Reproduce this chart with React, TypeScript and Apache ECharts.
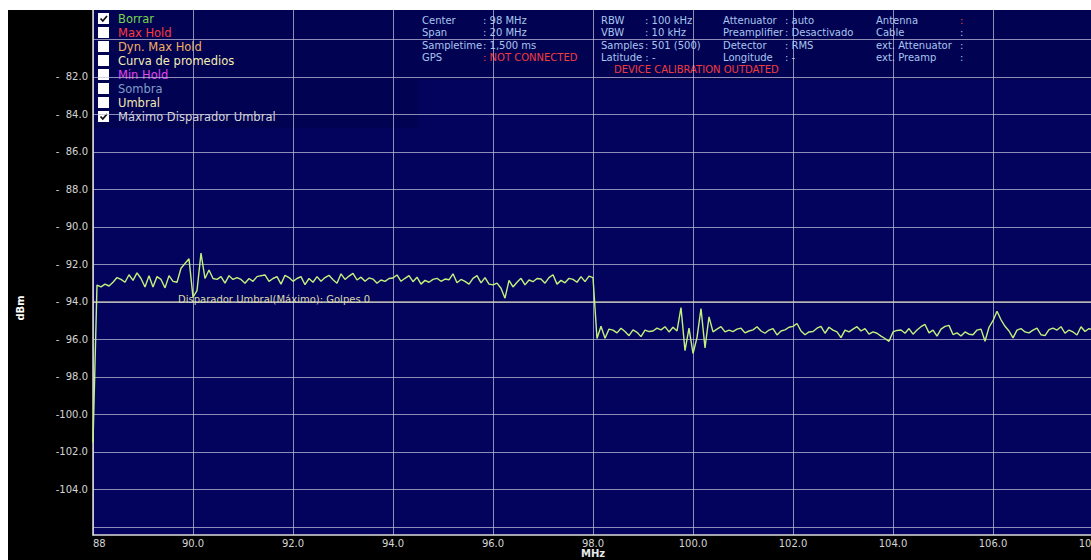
import React, { useEffect, useRef } from "react";
import * as echarts from "echarts";

// Sweep definition: 88–108 MHz, one sample every 0.08 MHz
const startMHz = 88;
const stepMHz = 0.08;

// Clear/Write trace, dBm
const traceDbm: number[] = [
  -101.5, -93.1, -93.2, -93.05, -93.15, -92.95, -92.7, -92.8, -92.95, -92.55, -92.85, -92.45, -92.75, -93.2, -92.6, -93.2, -92.65, -92.8, -93.25, -92.6, -92.9, -92.95, -92.2, -91.95, -91.7,
  -93.75, -93.4, -91.4, -92.75, -92.3, -92.75, -92.8, -92.65, -93.0, -92.6, -92.8, -92.7, -92.8, -93.0, -92.75, -92.9, -92.65, -92.6, -92.56, -92.9, -92.75, -92.65, -93.05, -92.58, -92.7,
  -92.9, -92.75, -92.65, -93.08, -92.75, -92.95, -92.65, -92.9, -92.7, -92.58, -92.82, -93.0, -92.5, -92.8, -92.62, -92.48, -92.83, -92.68, -92.9, -92.72, -92.78, -93.0, -92.83, -92.9, -92.75,
  -92.72, -92.56, -92.9, -92.74, -92.6, -92.92, -92.68, -93.05, -92.85, -92.95, -92.8, -92.74, -92.9, -92.78, -92.82, -92.5, -92.98, -92.8, -92.9, -93.05, -92.74, -92.6, -92.98, -92.7, -93.05,
  -93.09, -93.0, -93.27, -93.8, -92.85, -93.2, -92.95, -92.74, -93.09, -92.83, -92.92, -92.75, -92.78, -93.0, -92.7, -92.55, -93.05, -92.85, -92.98, -92.74, -92.8, -92.95, -92.65, -92.92, -92.62,
  -92.7, -95.95, -95.3, -95.94, -95.45, -95.5, -95.65, -95.4, -95.58, -95.8, -95.49, -95.62, -95.85, -95.5, -95.58, -95.55, -95.4, -95.49, -95.32, -95.6, -95.35, -95.55, -94.3, -96.6, -95.4,
  -96.75, -95.9, -94.35, -96.45, -94.8, -95.6, -95.45, -95.32, -95.6, -95.5, -95.58, -95.45, -95.4, -95.65, -95.55, -95.49, -95.32, -95.55, -95.67, -95.5, -95.42, -95.76, -95.55, -95.49, -95.35,
  -95.3, -95.15, -95.55, -95.75, -95.6, -95.58, -95.4, -95.3, -95.67, -95.35, -95.5, -95.6, -95.9, -95.5, -95.6, -95.45, -95.32, -95.55, -95.42, -95.72, -95.6, -95.67, -95.82, -95.95, -96.1,
  -95.6, -95.52, -95.5, -95.67, -95.42, -95.72, -95.5, -95.32, -95.2, -95.65, -95.5, -95.82, -95.45, -95.3, -95.25, -95.74, -95.65, -95.82, -95.6, -95.72, -95.75, -95.5, -95.45, -96.1, -95.35,
  -95.0, -94.5, -94.95, -95.3, -95.55, -95.92, -95.5, -95.42, -95.6, -95.65, -95.5, -95.4, -95.75, -95.8, -95.48, -95.4, -95.5, -95.32, -95.67, -95.5, -95.6, -95.76, -95.32, -95.58, -95.42, -95.5,
];

// Axis ranges and ticks
const freqMin = 88;
const freqMax = 108;
const freqStep = 2;
const levelMin = -106.43;
const levelMax = -78.43;
const levelGridValues = [-80, -82, -84, -86, -88, -90, -92, -94, -96, -98, -100, -102, -104, -106];
const levelLabelValues = [-82, -84, -86, -88, -90, -92, -94, -96, -98, -100, -102, -104];

// Threshold trigger
const thresholdDbm = -94;
const thresholdText = "Disparador Umbral(Máximo): Golpes 0";

// Trace selector
const traceNames = ["Borrar", "Max Hold", "Dyn. Max Hold", "Curva de promedios", "Min Hold", "Sombra", "Umbral", "Máximo Disparador Umbral"];
const traceChecked = [true, false, false, false, false, false, false, true];
const traceColors = ["#74d64e", "#ff3b3b", "#f2b062", "#f4eeb4", "#e244ee", "#7f9ec4", "#f2e8b0", "#d6d6d6"];

// Instrument settings panel
const infoLabelsA = ["Center", "Span", "Sampletime", "GPS"];
const infoValuesA = [": 98 MHz", ": 20 MHz", ": 1,500 ms", ": NOT CONNECTED"];
const infoLabelsB = ["RBW", "VBW", "Samples", "Latitude : -"];
const infoValuesB = [": 100 kHz", ": 10 kHz", ": 501 (500)", ""];
const infoLabelsC = ["Attenuator", "Preamplifier", "Detector", "Longitude"];
const infoValuesC = [": auto", ": Desactivado", ": RMS", ": -"];
const infoLabelsD = ["Antenna", "Cable", "ext. Attenuator", "ext. Preamp"];
const infoValuesD = [":", ":", ":", ":"];
const calibrationWarning = "DEVICE CALIBRATION OUTDATED";

const FONT = "DejaVu Sans";
const INFO_COLOR = "#a8c6ee";
const WARN_COLOR = "#f23c3c";

function buildGraphics() {
  const els: any[] = [];
  // darker panels behind the selector and the settings
  els.push({ type: "rect", silent: true, shape: { x: 85, y: 0, width: 325, height: 118 }, style: { fill: "rgba(0,0,12,0.12)" } });
  els.push({ type: "rect", silent: true, shape: { x: 410, y: 0, width: 690, height: 70 }, style: { fill: "rgba(0,0,12,0.12)" } });

  traceNames.forEach((name, i) => {
    const y = 3 + i * 14;
    els.push({ type: "rect", shape: { x: 90, y, width: 11, height: 11 }, style: { fill: "#ffffff" } });
    if (traceChecked[i]) {
      els.push({
        type: "polyline",
        shape: { points: [[92.5, y + 5.5], [94.8, y + 8], [99, y + 3]] },
        style: { stroke: "#111111", lineWidth: 1.8, fill: null },
      });
    }
    els.push({
      type: "text",
      x: 110,
      y: y + 5.5,
      style: { text: name, fill: traceColors[i], font: `11.5px "${FONT}"`, verticalAlign: "middle" },
    });
  });

  const rows = [10, 22.5, 35, 47];
  const cols = [
    { lx: 414, vx: 475, labels: infoLabelsA, values: infoValuesA },
    { lx: 593, vx: 637, labels: infoLabelsB, values: infoValuesB },
    { lx: 715, vx: 777, labels: infoLabelsC, values: infoValuesC },
    { lx: 868, vx: 952, labels: infoLabelsD, values: infoValuesD },
  ];
  cols.forEach((c, ci) => {
    rows.forEach((ry, ri) => {
      els.push({ type: "text", x: c.lx, y: ry, style: { text: c.labels[ri], fill: INFO_COLOR, font: `10px "${FONT}"`, verticalAlign: "middle" } });
      if (c.values[ri]) {
        const warn = (ci === 0 && ri === 3) || (ci === 3 && ri === 0);
        els.push({ type: "text", x: c.vx, y: ry, style: { text: c.values[ri], fill: warn ? WARN_COLOR : INFO_COLOR, font: `10px "${FONT}"`, verticalAlign: "middle" } });
      }
    });
  });
  els.push({ type: "text", x: 606, y: 59, style: { text: calibrationWarning, fill: WARN_COLOR, font: `10px "${FONT}"`, verticalAlign: "middle" } });

  els.push({ type: "text", x: 170, y: 289, style: { text: thresholdText, fill: "#d8d8a6", font: `10px "${FONT}"`, verticalAlign: "middle" } });

  els.push({
    type: "text",
    x: 12,
    y: 298,
    rotation: Math.PI / 2,
    style: { text: "dBm", fill: "#ffffff", font: `bold 10px "${FONT}"`, align: "center", verticalAlign: "middle" },
  });
  return els;
}

export default function App() {
  const ref = useRef<HTMLDivElement>(null);

  useEffect(() => {
    if (!ref.current) return;
    const chart = echarts.init(ref.current, null, { renderer: "svg" });

    const traceData = traceDbm.map((v, i) => [Math.round((startMHz + i * stepMHz) * 100) / 100, v]);
    const gridLine = { show: true, lineStyle: { color: "rgba(196,196,222,0.72)", width: 1 } };

    chart.setOption({
      animation: false,
      backgroundColor: "#000000",
      textStyle: { fontFamily: FONT },
      grid: {
        left: 85,
        right: -2,
        top: 0,
        bottom: 25,
        show: true,
        backgroundColor: "#03035e",
        borderWidth: 0,
        containLabel: false,
        outerBoundsMode: "none",
      },
      xAxis: {
        type: "value",
        min: freqMin,
        max: freqMax,
        interval: freqStep,
        name: "MHz",
        nameLocation: "middle",
        nameGap: 13,
        nameMoveOverlap: false,
        nameTextStyle: { color: "#e8e8e8", fontSize: 10, fontWeight: "bold", fontFamily: FONT },
        axisLine: { show: true, onZero: false, lineStyle: { color: "#dcdcdc", width: 1.5 } },
        axisTick: { show: false },
        splitLine: gridLine,
        axisLabel: {
          color: "#d4d4d4",
          fontSize: 10,
          fontFamily: FONT,
          margin: 3,
          alignMinLabel: "left",
          showMinLabel: true,
          showMaxLabel: true,
          formatter: (v: number) => (v === freqMin ? String(v) : v.toFixed(1)),
        },
      },
      yAxis: {
        type: "value",
        min: levelMin,
        max: levelMax,
        axisLine: { show: true, lineStyle: { color: "#dcdcdc", width: 1.5 } },
        axisTick: { show: false, customValues: levelGridValues },
        splitLine: gridLine,
        axisLabel: {
          customValues: levelLabelValues,
          color: "#d4d4d4",
          fontSize: 10,
          fontFamily: FONT,
          margin: 5,
          formatter: (v: number) => (v <= -100 ? v.toFixed(1) : "-  " + Math.abs(v).toFixed(1)),
        },
      },
      series: [
        {
          name: "Umbral",
          type: "line",
          data: [[freqMin, thresholdDbm], [freqMax, thresholdDbm]],
          showSymbol: false,
          silent: true,
          lineStyle: { color: "#e6e6b2", width: 1 },
          z: 2,
        },
        {
          name: "Borrar",
          type: "line",
          data: traceData,
          showSymbol: false,
          silent: true,
          lineStyle: { color: "#c2f27c", width: 1.4 },
          z: 3,
        },
      ],
      graphic: buildGraphics(),
    });

    return () => chart.dispose();
  }, []);

  // pinned to the window so the chart can run to its right edge
  return (
    <div style={{ position: "fixed", left: 8, top: 10, width: 1083, height: 550, overflow: "hidden" }}>
      <div ref={ref} style={{ width: 1083, height: 550 }} />
    </div>
  );
}
